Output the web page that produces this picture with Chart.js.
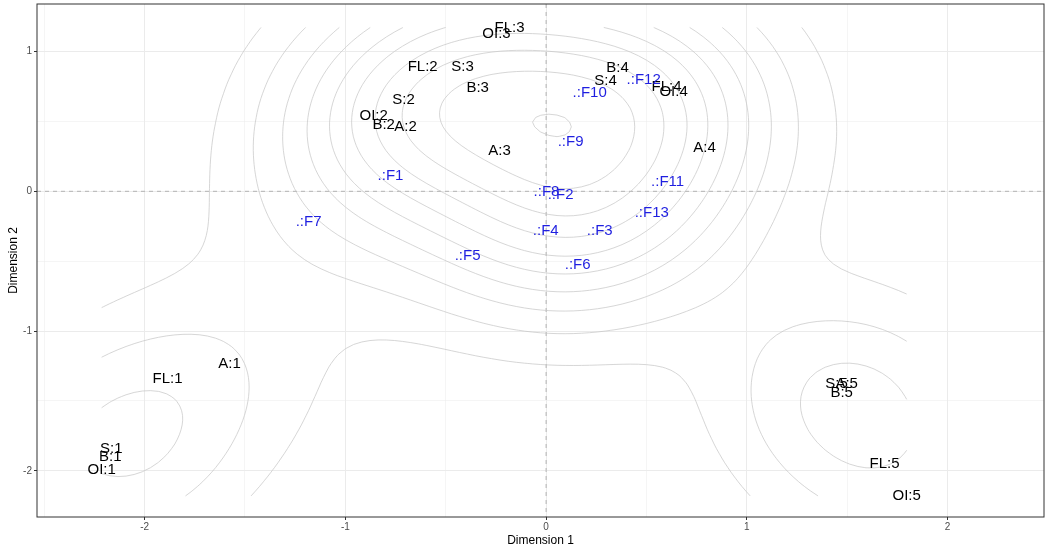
<!DOCTYPE html>
<html>
<head>
<meta charset="utf-8">
<script src="https://cdn.jsdelivr.net/npm/chart.js@4.4.1/dist/chart.umd.min.js"></script>
<style>
  html, body { margin: 0; padding: 0; background: #fff; }
  #wrap { width: 1045px; height: 550px; }
</style>
</head>
<body>
<div id="wrap"><canvas id="grafico" width="1045" height="550"></canvas></div>
<script>
// modalidades (texto negro)
var catLabels = ['A:1','A:2','A:3','A:4','A:5',
                 'B:1','B:2','B:3','B:4','B:5',
                 'S:1','S:2','S:3','S:4','S:5',
                 'FL:1','FL:2','FL:3','FL:4','FL:5',
                 'OI:1','OI:2','OI:3','OI:4','OI:5'];
var catX = [-1.577, -0.700, -0.232, 0.789, 1.497,
            -2.171, -0.809, -0.341, 0.356, 1.472,
            -2.166, -0.710, -0.416, 0.296, 1.447,
            -1.886, -0.615, -0.182, 0.600, 1.686,
            -2.214, -0.859, -0.247, 0.635, 1.796];
var catY = [-1.234, 0.463, 0.291, 0.313, -1.378,
            -1.900, 0.478, 0.742, 0.886, -1.442,
            -1.842, 0.657, 0.893, 0.793, -1.378,
            -1.342, 0.893, 1.172, 0.750, -1.950,
            -1.993, 0.542, 1.129, 0.714, -2.179];

// factores (texto azul)
var fLabels = ['.:F1','.:F2','.:F3','.:F4','.:F5','.:F6','.:F7',
               '.:F8','.:F9','.:F10','.:F11','.:F12','.:F13'];
var fX = [-0.775, 0.072, 0.267, -0.002, -0.391, 0.157, -1.183,
          0.002, 0.122, 0.217, 0.605, 0.486, 0.526];
var fY = [0.112, -0.024, -0.281, -0.281, -0.460, -0.525, -0.217,
          -0.002, 0.356, 0.707, 0.069, 0.800, -0.153];

// ejes
var xTicks = [-2, -1, 0, 1, 2];
var yTicks = [-2, -1, 0, 1];
var xGrid = [-2.5, -2, -1.5, -1, -0.5, 0, 0.5, 1, 1.5, 2];
var yGrid = [-2, -1.5, -1, -0.5, 0, 0.5, 1];

// ---- densidad 2d (como MASS::kde2d) ----
var ajuste = 0.977; // suavizado

function quantile7(s, p) {
    var h = (s.length - 1) * p, lo = Math.floor(h);
    var hi = Math.min(lo + 1, s.length - 1);
    return s[lo] + (h - lo) * (s[hi] - s[lo]);
}
function bandwidthNrd(v) {
    var n = v.length;
    var m = v.reduce(function(a, b) { return a + b; }, 0) / n;
    var sd = Math.sqrt(v.reduce(function(a, b) { return a + (b - m) * (b - m); }, 0) / (n - 1));
    var s = v.slice().sort(function(a, b) { return a - b; });
    var r = (quantile7(s, 0.75) - quantile7(s, 0.25)) / 1.34;
    return 4 * 1.06 * Math.min(sd, r) * Math.pow(n, -0.2);
}
function kde2d(xs, ys, n) {
    var hx = bandwidthNrd(xs) * ajuste / 4, hy = bandwidthNrd(ys) * ajuste / 4;
    var x0 = Math.min.apply(null, xs), x1 = Math.max.apply(null, xs);
    var y0 = Math.min.apply(null, ys), y1 = Math.max.apply(null, ys);
    var gx = [], gy = [], z = [];
    for (var i = 0; i < n; i++) {
        gx.push(x0 + (x1 - x0) * i / (n - 1));
        gy.push(y0 + (y1 - y0) * i / (n - 1));
    }
    var dn = function(t) { return Math.exp(-0.5 * t * t) / Math.sqrt(2 * Math.PI); };
    for (var i = 0; i < n; i++) {
        z.push([]);
        for (var j = 0; j < n; j++) {
            var s = 0;
            for (var k = 0; k < xs.length; k++) {
                s += dn((gx[i] - xs[k]) / hx) * dn((gy[j] - ys[k]) / hy);
            }
            z[i].push(s / (xs.length * hx * hy));
        }
    }
    return { gx: gx, gy: gy, z: z };
}
function pretty(lo, hi, n) {
    var cell = (hi - lo) / n;
    var U = Math.pow(10, Math.floor(Math.log10(cell)));
    var unit = U;
    if (2 * U - cell < 1.5 * (cell - unit)) {
        unit = 2 * U;
        if (5 * U - cell < 2.75 * (cell - unit)) {
            unit = 5 * U;
            if (10 * U - cell < 1.5 * (cell - unit)) unit = 10 * U;
        }
    }
    var ns = Math.floor(lo / unit + 1e-7), nu = Math.ceil(hi / unit - 1e-7);
    var out = [];
    for (var k = ns; k <= nu; k++) out.push(k * unit);
    return out;
}
// tabla de marching squares: 0=abajo 1=derecha 2=arriba 3=izquierda
var msTable = [[], [[3,0]], [[0,1]], [[3,1]], [[1,2]], [[3,2],[0,1]], [[0,2]], [[3,2]],
               [[2,3]], [[0,2]], [[3,0],[1,2]], [[1,2]], [[1,3]], [[0,1]], [[3,0]], []];

var density = null;

var contourPlugin = {
    id: 'contornos',
    beforeDatasetsDraw: function(chart) {
        var ctx = chart.ctx, xs = chart.scales.x, ys = chart.scales.y, area = chart.chartArea;
        if (!density) density = kde2d(catX.concat(fX), catY.concat(fY), 100);
        var gx = density.gx, gy = density.gy, z = density.z, n = gx.length;
        var zmin = Infinity, zmax = -Infinity;
        z.forEach(function(r) { r.forEach(function(v) { zmin = Math.min(zmin, v); zmax = Math.max(zmax, v); }); });
        var niveles = pretty(zmin, zmax, 10);

        ctx.save();
        ctx.beginPath();
        ctx.rect(area.left, area.top, area.right - area.left, area.bottom - area.top);
        ctx.clip();

        // lineas de referencia en 0
        ctx.strokeStyle = '#b3b3b3';
        ctx.lineWidth = 1;
        ctx.setLineDash([4, 4]);
        ctx.beginPath();
        ctx.moveTo(xs.getPixelForValue(0), area.top);
        ctx.lineTo(xs.getPixelForValue(0), area.bottom);
        ctx.moveTo(area.left, ys.getPixelForValue(0));
        ctx.lineTo(area.right, ys.getPixelForValue(0));
        ctx.stroke();
        ctx.setLineDash([]);

        ctx.strokeStyle = '#c4c4c4';
        ctx.lineWidth = 0.7;
        niveles.forEach(function(L) {
            ctx.beginPath();
            for (var i = 0; i < n - 1; i++) {
                for (var j = 0; j < n - 1; j++) {
                    var a = z[i][j], b = z[i + 1][j], c = z[i + 1][j + 1], d = z[i][j + 1];
                    var idx = (a >= L ? 1 : 0) | (b >= L ? 2 : 0) | (c >= L ? 4 : 0) | (d >= L ? 8 : 0);
                    var segs = msTable[idx];
                    if (!segs.length) continue;
                    var pt = function(e) {
                        if (e === 0) return [gx[i] + (L - a) / (b - a) * (gx[i + 1] - gx[i]), gy[j]];
                        if (e === 1) return [gx[i + 1], gy[j] + (L - b) / (c - b) * (gy[j + 1] - gy[j])];
                        if (e === 2) return [gx[i] + (L - d) / (c - d) * (gx[i + 1] - gx[i]), gy[j + 1]];
                        return [gx[i], gy[j] + (L - a) / (d - a) * (gy[j + 1] - gy[j])];
                    };
                    segs.forEach(function(s) {
                        var p = pt(s[0]), q = pt(s[1]);
                        ctx.moveTo(xs.getPixelForValue(p[0]), ys.getPixelForValue(p[1]));
                        ctx.lineTo(xs.getPixelForValue(q[0]), ys.getPixelForValue(q[1]));
                    });
                }
            }
            ctx.stroke();
        });
        ctx.restore();
    }
};

var textPlugin = {
    id: 'etiquetas',
    afterDatasetsDraw: function(chart) {
        var ctx = chart.ctx;
        ctx.save();
        ctx.font = "15px 'Liberation Sans', Arial, sans-serif";
        ctx.textAlign = 'center';
        ctx.textBaseline = 'middle';
        chart.data.datasets.forEach(function(ds, di) {
            var meta = chart.getDatasetMeta(di);
            ctx.fillStyle = ds.textColor;
            meta.data.forEach(function(el, k) {
                ctx.fillText(ds.names[k], el.x, el.y);
            });
        });
        ctx.restore();
    }
};

var borderPlugin = {
    id: 'marco',
    afterDraw: function(chart) {
        var a = chart.chartArea, ctx = chart.ctx;
        ctx.save();
        ctx.strokeStyle = '#333333';
        ctx.lineWidth = 1;
        ctx.strokeRect(a.left, a.top, a.right - a.left, a.bottom - a.top);
        ctx.restore();
    }
};

function puntos(xs, ys) {
    return xs.map(function(v, k) { return { x: v, y: ys[k] }; });
}

var tickFont = { size: 10, family: "'Liberation Sans', Arial, sans-serif" };

var ctx = document.getElementById('grafico').getContext('2d');
var myChart = new Chart(ctx, {
    type: 'scatter',
    data: {
        datasets: [{
            label: 'modalidades',
            data: puntos(catX, catY),
            names: catLabels,
            textColor: '#000000',
            pointRadius: 0
        }, {
            label: 'factores',
            data: puntos(fX, fY),
            names: fLabels,
            textColor: '#1f1fe0',
            pointRadius: 0
        }]
    },
    options: {
        responsive: false,
        animation: false,
        layout: { padding: { left: 0, right: 1, top: 4, bottom: 0 } },
        plugins: {
            legend: { display: false },
            tooltip: { enabled: false }
        },
        scales: {
            x: {
                type: 'linear',
                min: -2.536,
                max: 2.48,
                afterBuildTicks: function(s) { s.ticks = xGrid.map(function(v) { return { value: v }; }); },
                afterFit: function(s) { s.height = 33; s.paddingLeft = 0; s.paddingRight = 0; },
                ticks: {
                    autoSkip: false, maxRotation: 0, padding: 1,
                    color: '#4d4d4d', font: tickFont,
                    callback: function(v) { return xTicks.indexOf(v) >= 0 ? String(v) : ''; }
                },
                grid: {
                    color: '#ebebeb',
                    lineWidth: function(c) { return xTicks.indexOf(c.tick.value) >= 0 ? 1 : 0.5; },
                    tickLength: 3,
                    tickColor: function(c) { return xTicks.indexOf(c.tick.value) >= 0 ? '#333333' : 'rgba(0,0,0,0)'; }
                },
                border: { display: false },
                title: {
                    display: true, text: 'Dimension 1', color: '#000',
                    font: { size: 12, family: "'Liberation Sans', Arial, sans-serif" },
                    padding: { top: 0, bottom: 2 }
                }
            },
            y: {
                type: 'linear',
                min: -2.33,
                max: 1.34,
                afterBuildTicks: function(s) { s.ticks = yGrid.map(function(v) { return { value: v }; }); },
                afterFit: function(s) { s.width = 37; s.paddingTop = 0; s.paddingBottom = 0; },
                ticks: {
                    autoSkip: false, padding: 2,
                    color: '#4d4d4d', font: tickFont,
                    callback: function(v) { return yTicks.indexOf(v) >= 0 ? String(v) : ''; }
                },
                grid: {
                    color: '#ebebeb',
                    lineWidth: function(c) { return yTicks.indexOf(c.tick.value) >= 0 ? 1 : 0.5; },
                    tickLength: 3,
                    tickColor: function(c) { return yTicks.indexOf(c.tick.value) >= 0 ? '#333333' : 'rgba(0,0,0,0)'; }
                },
                border: { display: false },
                title: {
                    display: true, text: 'Dimension 2', color: '#000',
                    font: { size: 12, family: "'Liberation Sans', Arial, sans-serif" },
                    padding: { top: 6, bottom: 0 }
                }
            }
        }
    },
    plugins: [contourPlugin, textPlugin, borderPlugin]
});
</script>
</body>
</html>
